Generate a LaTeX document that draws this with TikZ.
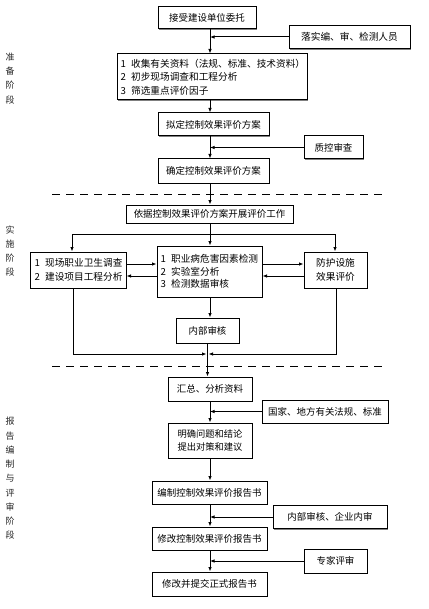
\documentclass[tikz,border=0pt]{standalone}
\usepackage{fontspec}
\newfontfamily\cjk{Noto Sans CJK SC}
\usetikzlibrary{arrows.meta,shadows}
\newcommand\numlab[1]{\makebox[1.1em][l]{#1}}
\begin{document}
\begin{tikzpicture}[x=1bp,y=-1bp,
  box/.style={draw=black, line width=1bp, fill=white, inner sep=0pt,
    font=\cjk\fontsize{9.5}{13.5}\selectfont, align=center,
    general shadow={fill=black!50, shadow xshift=1.3bp, shadow yshift=-1.3bp}},
  lbox/.style={box, align=left, inner xsep=3.5bp},
  arr/.style={line width=1bp, -{Latex[length=4.5bp,width=3.5bp]}},
  ln/.style={line width=1bp},
  dashline/.style={line width=1bp, dash pattern=on 8bp off 6bp},
  lab/.style={font=\cjk\fontsize{9}{14.3}\selectfont, align=center, text=black!85, inner sep=0pt}]
\useasboundingbox (0,0) rectangle (428,609);
\coordinate (mx) at (210,0);
% stage labels
\node[lab] (p1) at (10,78.5) {准\\备\\阶\\段};
\node[lab] (p2) at (10,251) {实\\施\\阶\\段};
\node[lab] (p3) at (10,478.5) {报\\告\\编\\制\\与\\评\\审\\阶\\段};
% dashed separators
\draw[dashline] (52,194) -- (388,194);
\draw[dashline] (52,366) -- (388,366);
% stage 1
\node[box, minimum width=98bp, minimum height=22bp] (n1) at (207,18) {接受建设单位委托};
\node[box, minimum width=121bp, minimum height=23bp, font=\cjk\fontsize{9.7}{13.5}\selectfont] (s1) at (349.5,37) {落实编、审、检测人员};
\node[lbox, text width=183bp, minimum height=46bp, font=\cjk\fontsize{9.7}{13.5}\selectfont] (n2) at (212,77) {\numlab{1}收集有关资料（法规、标准、技术资料）\\\numlab{2}初步现场调查和工程分析\\\numlab{3}筛选重点评价因子};
\node[box, minimum width=111bp, minimum height=23bp] (n3) at (213.5,124.5) {拟定控制效果评价方案};
\node[box, minimum width=59bp, minimum height=23bp] (s2) at (333.5,147.5) {质控审查};
\node[box, minimum width=111bp, minimum height=24bp] (n4) at (213.5,171) {确定控制效果评价方案};
\draw[arr] (n1.south -| mx) -- (n2.north -| mx);
\draw[arr] (s1.west) -- (s1.west -| mx);
\draw[arr] (n2.south -| mx) -- (n3.north -| mx);
\draw[arr] (n3.south -| mx) -- (n4.north -| mx);
\draw[arr] (s2.west) -- (s2.west -| mx);
% stage 2
\node[box, minimum width=167bp, minimum height=18bp] (n5) at (209.5,214) {依据控制效果评价方案开展评价工作};
\node[lbox, text width=88bp, minimum height=36bp, font=\cjk\fontsize{9.7}{14.7}\selectfont] (L) at (78.5,270) {\numlab{1}现场职业卫生调查\\\numlab{2}建设项目工程分析};
\node[lbox, text width=98bp, minimum height=51bp, font=\cjk\fontsize{9.7}{12.8}\selectfont] (C) at (209.5,271.5) {\numlab{1}职业病危害因素检测\\\numlab{2}实验室分析\\\numlab{3}检测数据审核};
\node[box, minimum width=63bp, minimum height=36bp, font=\cjk\fontsize{9.7}{14.3}\selectfont] (R) at (335.5,270) {防护设施\\效果评价};
\node[box, minimum width=63bp, minimum height=25bp] (K) at (207.5,330.5) {内部审核};
\draw[arr] (n4.south -| mx) -- (n5.north -| mx);
\coordinate (bl) at (72,234);
\coordinate (br) at (335,234);
\draw[ln] (bl) -- (br);
\draw[arr] (bl) -- (bl |- L.north);
\draw[arr] (br) -- (br |- R.north);
\draw[arr] (n5.south -| mx) -- (C.north -| mx);
\coordinate (ya) at (0,264);
\coordinate (yb) at (0,276);
\draw[arr] (L.east |- ya) -- (C.west |- ya);
\draw[arr] (C.west |- yb) -- (L.east |- yb);
\draw[arr] (C.east |- ya) -- (R.west |- ya);
\draw[arr] (R.west |- yb) -- (C.east |- yb);
\draw[arr] (C.south -| mx) -- (K.north -| mx);
\coordinate (lb) at (73,354);
\coordinate (rb) at (336,354);
\coordinate (jl) at (206.5,354);
\coordinate (jr) at (208.5,354);
\draw[arr] (lb |- L.south) -- (lb) -- (jl);
\draw[arr] (rb |- R.south) -- (rb) -- (jr);
% stage 3
\node[box, minimum width=84bp, minimum height=24bp] (h1) at (210,389) {汇总、分析资料};
\node[box, minimum width=126bp, minimum height=23bp] (s3) at (325,411.5) {国家、地方有关法规、标准};
\node[box, minimum width=84bp, minimum height=35bp, font=\cjk\fontsize{9.3}{14}\selectfont] (h2) at (210,440.5) {明确问题和结论\\提出对策和建议};
\node[box, minimum width=115bp, minimum height=23bp] (h3) at (209.5,492.5) {编制控制效果评价报告书};
\node[box, minimum width=114bp, minimum height=23bp] (s4) at (330,517) {内部审核、企业内审};
\node[box, minimum width=115bp, minimum height=23bp] (h4) at (209.5,538.5) {修改控制效果评价报告书};
\node[box, minimum width=63bp, minimum height=24bp] (s5) at (335.5,561) {专家评审};
\node[box, minimum width=115bp, minimum height=24bp] (h5) at (209.5,584) {修改并提交正式报告书};
\draw[arr] (K.south) -- (h1.north -| K.south);
\draw[arr] (h1.south -| mx) -- (h2.north -| mx);
\draw[arr] (s3.west) -- (s3.west -| mx);
\draw[arr] (h2.south -| mx) -- (h3.north -| mx);
\draw[arr] (h3.south -| mx) -- (h4.north -| mx);
\draw[arr] (s4.west) -- (s4.west -| mx);
\draw[arr] (h4.south -| mx) -- (h5.north -| mx);
\draw[arr] (s5.west) -- (s5.west -| mx);
\end{tikzpicture}
\end{document}
